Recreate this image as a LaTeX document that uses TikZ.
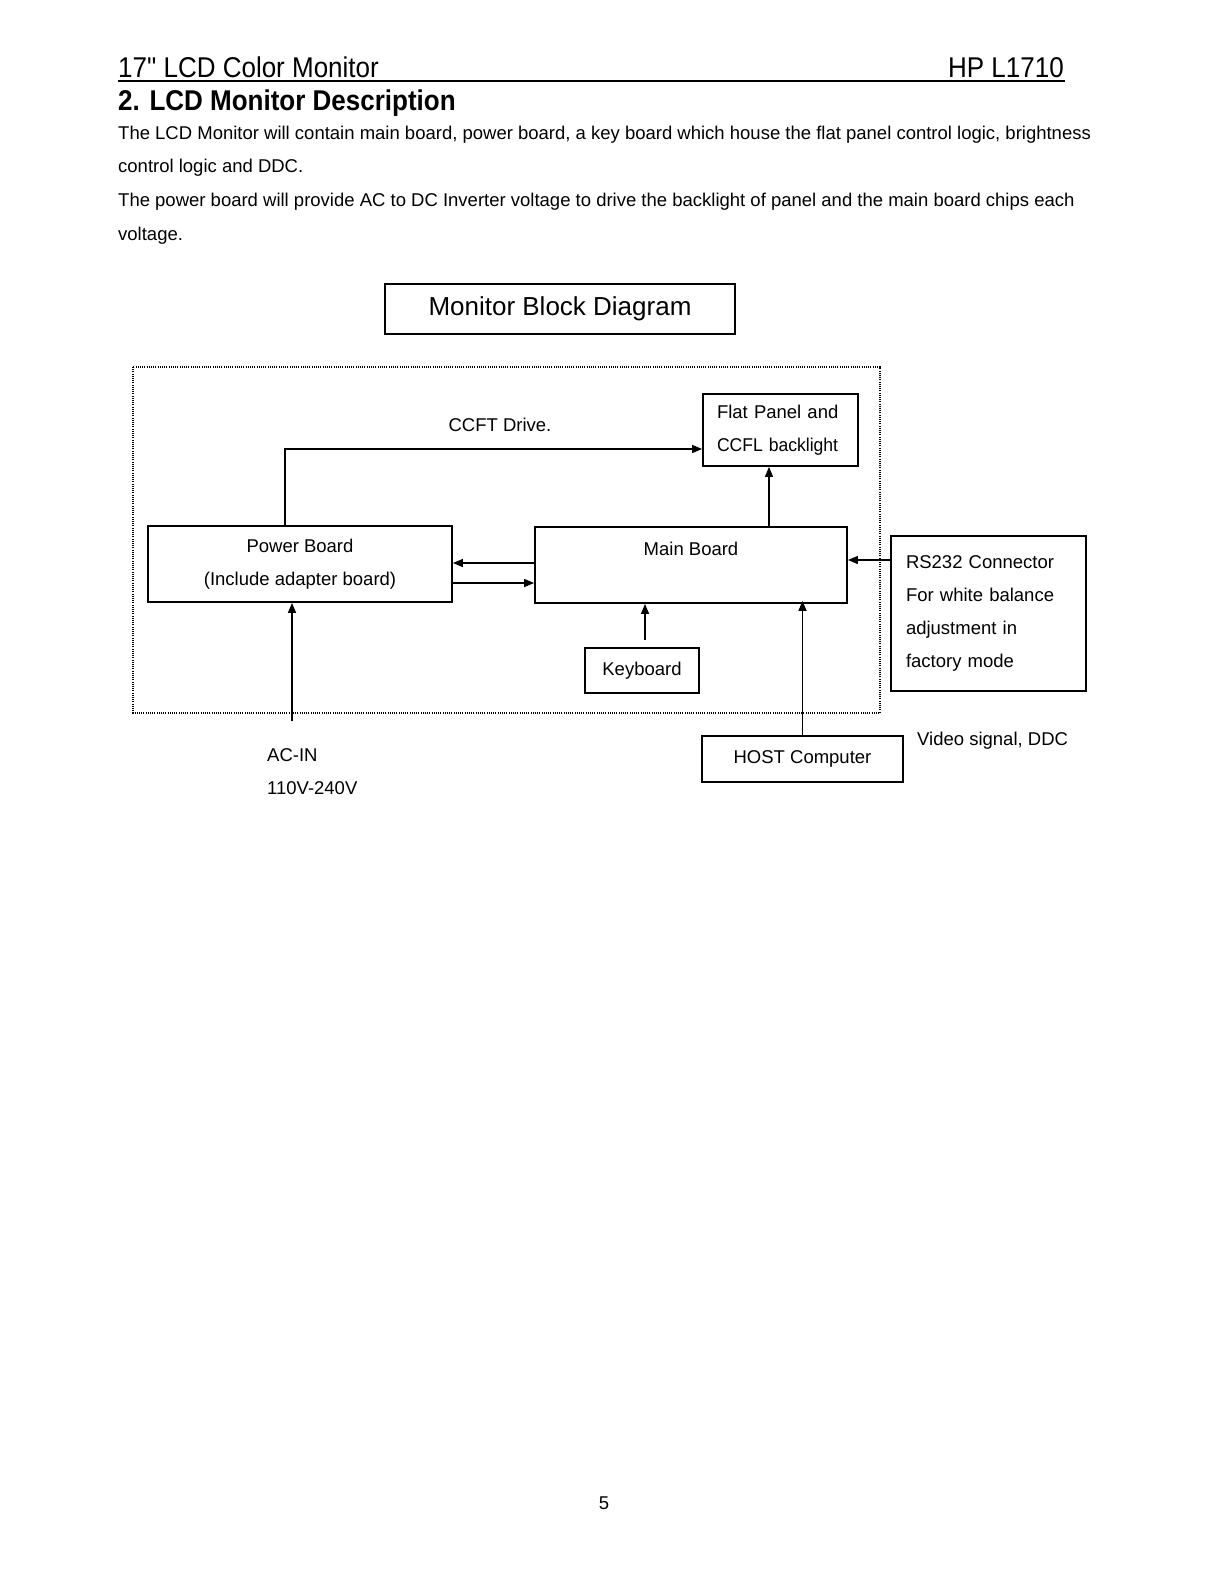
\documentclass[tikz,border=0pt]{standalone}
\usepackage{fontspec}
\setmainfont{Liberation Sans}
\newfontfamily\plainsans{Liberation Sans}
\usetikzlibrary{arrows.meta,calc}
\begin{document}
\begin{tikzpicture}[x=1pt,y=-1pt,
  body/.style={font=\fontsize{18.5}{33}\selectfont, inner sep=0pt, anchor=base west},
  dg/.style={font=\fontsize{18.5}{33}\selectfont},
  box/.style={dg, draw, line width=1.8pt, inner sep=0pt, align=center},
  lbox/.style={dg, draw, line width=1.8pt, inner ysep=0pt, align=left},
  arr/.style={line width=1.4pt, -{Triangle[length=10pt,width=8pt]}},
  big/.style={font=\fontsize{26}{30}\selectfont, inner sep=0pt}
]
\useasboundingbox (0,0) rectangle (1219,1582);
% header
\node[big, anchor=base west] (h1) at (118,77) {\scalebox{1}[1.1]{\plainsans 17" LCD Color Monitor}};
\node[big, anchor=base east] (h2) at (1064,77) {\scalebox{1}[1.1]{HP L1710}};
\draw[line width=2pt] (118,81) -- (1065,81);
\node[big, anchor=base west] (h3) at (118,110) {\scalebox{1}[1.1]{\bfseries 2. LCD Monitor Description}};
\node[body] (t1) at (118,139) {The LCD Monitor will contain main board, power board, a key board which house the flat panel control logic, brightness};
\node[body] (t2) at (118,172) {control logic and DDC.};
\node[body] (t3) at (118,206) {The power board will provide AC to DC Inverter voltage to drive the backlight of panel and the main board chips each};
\node[body] (t4) at (118,240) {voltage.};
% title box
\node[box, font=\fontsize{26}{30}\selectfont, line width=1.2pt, minimum width=350pt, minimum height=50pt] (title) at (560,309) {Monitor Block Diagram};
% dotted frame
\draw[line width=1.1pt, dash pattern=on 1pt off 1.2pt] (133,367) rectangle (880,713);
% boxes
\node[lbox, text width=127pt, inner xsep=14pt, minimum height=72pt] (fp) at (780.5,430) {Flat Panel and\\\scalebox{0.95}[1]{CCFL backlight}};
\node[box, minimum width=304pt, minimum height=76pt] (pb) at (300,564) {Power Board\\(Include adapter board)};
\node[box, minimum width=312pt, minimum height=76pt] (mb) at (691,565) {Main Board\\\mbox{}};
\node[box, minimum width=114pt, minimum height=45pt] (kb) at (642,670.5) {Keyboard};
\node[lbox, text width=165pt, inner xsep=15pt, minimum height=155pt] (rs) at (988.5,613.5) {RS232 Connector\\For white balance\\adjustment in\\factory mode};
\node[box, minimum width=201pt, minimum height=46pt] (hc) at (802.5,759) {HOST Computer};
% labels
\node[dg, inner sep=0pt] (ccft) at (500,425) {CCFT Drive.};
\node[dg, inner sep=0pt, anchor=base west] (ac1) at (267,761) {AC-IN};
\node[dg, inner sep=0pt, anchor=base west] (ac2) at (267,794) {110V-240V};
\node[dg, inner sep=0pt, anchor=base west] (vs) at (917,745) {Video signal, DDC};
\node[dg, inner sep=0pt] (pg) at (604,1503) {5};
% connectors
\draw[arr] ([xshift=-15pt]pb.north) |- ([yshift=-19pt]fp.west);
\draw[arr] ([yshift=2pt]mb.west) -- ([yshift=2pt]mb.west -| pb.east);
\draw[arr] ([yshift=-19pt]pb.east) -- ([yshift=-19pt]pb.east -| mb.west);
\draw[arr] ([xshift=-11.5pt]fp.south |- mb.north) -- ([xshift=-11.5pt]fp.south);
\draw[arr] ([yshift=53.5pt]rs.west) -- ([yshift=53.5pt]rs.west -| mb.east);
\draw[arr] ([xshift=3pt,yshift=7pt]kb.north) -- ([xshift=3pt]kb.north |- mb.south);
\draw[arr] (hc.north) -- ([yshift=3pt]hc.north |- mb.south);
\coordinate (acin) at (292,721);
\draw[arr] (acin) -- (acin |- pb.south);
\end{tikzpicture}
\end{document}
